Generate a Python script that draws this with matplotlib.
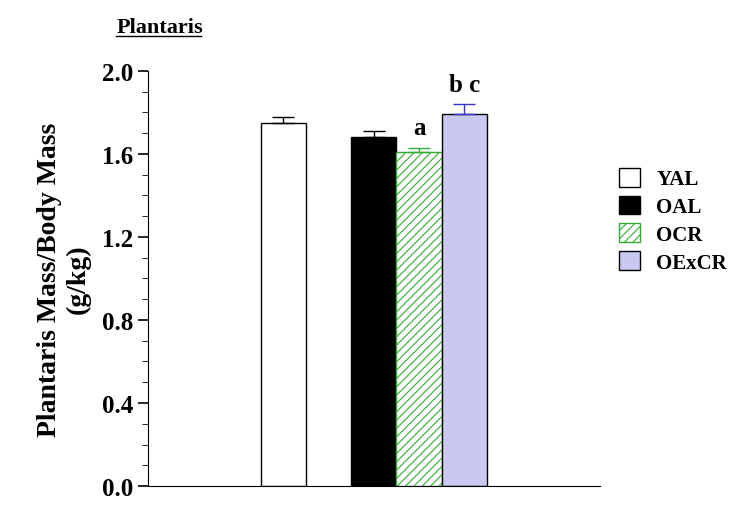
import matplotlib.pyplot as plt
from matplotlib.ticker import MultipleLocator

groups = ["YAL", "OAL", "OCR", "OExCR"]
values = [1.75, 1.68, 1.61, 1.79]
errors = [0.03, 0.03, 0.02, 0.05]
positions = [3, 5, 6, 7]
letters = ["", "", "a", "b c"]

plt.rcParams["font.family"] = "Liberation Serif"
plt.rcParams["font.weight"] = "bold"
plt.rcParams["hatch.linewidth"] = 0.8

fig = plt.figure(figsize=(7.5, 5.06), dpi=100)
ax = fig.add_axes([0.197, 0.0375, 0.603, 0.8205])

faces = ["white", "black", "white", "#c8c8f0"]
edges = ["black", "black", "#33aa33", "black"]
hatches = [None, None, "////", None]
ecolors = ["black", "black", "#33aa33", "#3333cc"]
for x, v, e, fc, ec, h, erc, g in zip(positions, values, errors, faces, edges, hatches, ecolors, groups):
    ax.bar(x, v, width=1.0, color=fc, edgecolor=ec, hatch=h, linewidth=1, label=g)
    ax.errorbar(x, v, yerr=[[0], [e]], fmt="none", ecolor=erc, capsize=8, elinewidth=1)

for x, v, e, t in zip(positions, values, errors, letters):
    if t:
        ax.text(x, v + e + 0.04, t, ha="center", va="bottom", fontsize=18, fontweight="bold")

ax.set_xlim(0, 10)
ax.set_ylim(0, 2.0)
ax.set_xticks([])
ax.yaxis.set_major_locator(MultipleLocator(0.4))
ax.yaxis.set_minor_locator(MultipleLocator(0.1))
ax.set_yticklabels([f"{t:.1f}" for t in ax.get_yticks()], fontsize=18, fontweight="bold")
ax.tick_params(axis="y", which="major", length=7, width=1.2)
ax.tick_params(axis="y", which="minor", length=4)
for s in ["top", "right"]:
    ax.spines[s].set_visible(False)
ax.set_ylabel("Plantaris Mass/Body Mass\n(g/kg)", fontsize=20, fontweight="bold", labelpad=8)

fig.text(0.155, 0.935, "Plantaris", fontsize=16, fontweight="bold")
fig.add_artist(plt.Line2D([0.155, 0.268], [0.927, 0.927], color="black", lw=1))

ax.legend(loc="center left", bbox_to_anchor=(1.0, 0.64), frameon=False, fontsize=15,
          handlelength=1.0, handleheight=1.0, labelspacing=0.3)

fig.savefig("out.png", dpi=100)
